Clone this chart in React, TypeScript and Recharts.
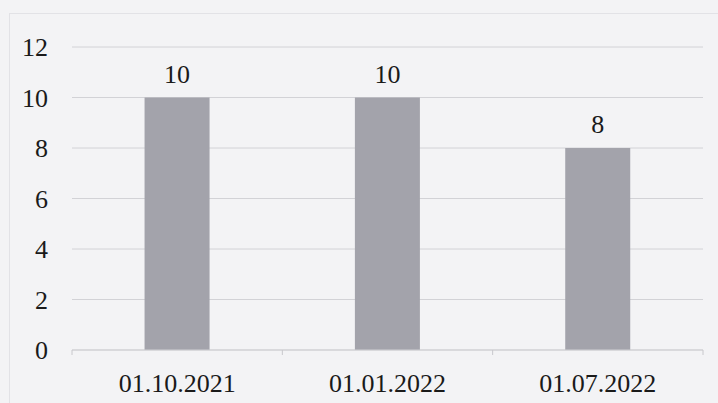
import React from 'react';
import { BarChart, Bar, XAxis, YAxis, CartesianGrid, LabelList } from 'recharts';

const categories = ['01.10.2021', '01.01.2022', '01.07.2022'];
const values = [10, 10, 8];
const yTicks = [0, 2, 4, 6, 8, 10, 12];

const data = categories.map((c, i) => ({ name: c, value: values[i] }));

const FONT = '"Liberation Serif", "Times New Roman", serif';
const W = 718;
const H = 403;
const M = { top: 47, right: 15, bottom: 0, left: 0 };
const Y_W = 72;
const X_H = 53;
const HALF_BAND = (W - M.left - M.right - Y_W) / categories.length / 2;

const XTick = (props: any) => {
  const { x, y, payload, index } = props;
  const axisY = H - M.bottom - X_H;
  return (
    <g>
      {index === 0 && <line x1={x - HALF_BAND} x2={x - HALF_BAND} y1={axisY} y2={axisY + 5} stroke="#c8c8cc" />}
      <line x1={x + HALF_BAND} x2={x + HALF_BAND} y1={axisY} y2={axisY + 5} stroke="#c8c8cc" />
      <text x={x} y={y} dy="0.71em" textAnchor="middle" fill="#1a1a1a" fontSize={26} fontFamily={FONT}>
        {payload.value}
      </text>
    </g>
  );
};

export default function App() {
  return (
    <div style={{ position: 'absolute', left: 0, top: 0, width: W, height: H, background: '#f3f3f5' }}>
      <div style={{ position: 'absolute', left: 9, top: 13, width: 720, height: 400, border: '1px solid #e2e2e6', boxSizing: 'border-box' }} />
      <div style={{ position: 'absolute', left: 0, top: 0 }}>
        <BarChart width={W} height={H} data={data} margin={M} barCategoryGap="34.5%">
          <CartesianGrid vertical={false} stroke="#d2d2d6" strokeWidth={1} />
          <XAxis
            dataKey="name"
            axisLine={{ stroke: '#cfcfd3' }}
            tickLine={false}
            tickSize={0}
            tickMargin={24}
            height={X_H}
            tick={<XTick />}
            interval={0}
          />
          <YAxis
            domain={[0, 12]}
            ticks={yTicks}
            axisLine={false}
            tickLine={false}
            tickSize={0}
            tickMargin={24}
            width={Y_W}
            tick={{ fill: '#1a1a1a', fontSize: 26, fontFamily: FONT }}
          />
          <Bar dataKey="value" fill="#a3a3ab" isAnimationActive={false}>
            <LabelList dataKey="value" position="top" offset={15} fill="#1a1a1a" fontSize={26} fontFamily={FONT} />
          </Bar>
        </BarChart>
      </div>
    </div>
  );
}
